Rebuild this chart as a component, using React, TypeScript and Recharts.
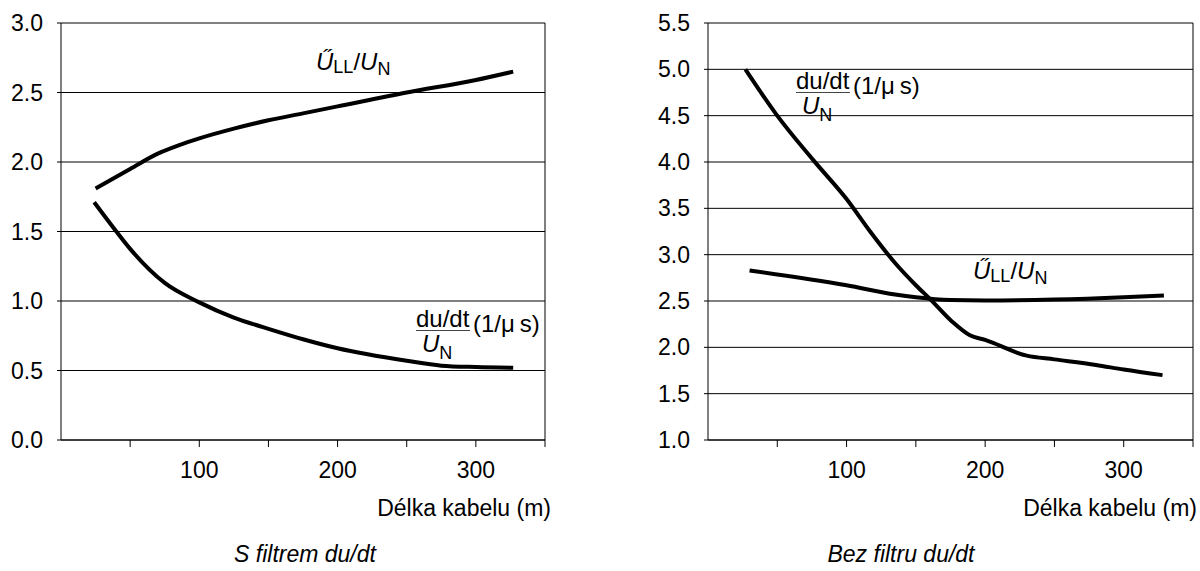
import React from 'react';
import { LineChart, Line, XAxis, YAxis, CartesianGrid, ReferenceLine } from 'recharts';

const FONT = '"Liberation Sans", Arial, Helvetica, sans-serif';

// cable length ticks (m)
const X_TICKS = [50, 100, 150, 200, 250, 300, 350];
const X_LABELED = [100, 200, 300];

// S filtrem du/dt
const filterPeakLen = [25, 50, 70, 85, 100, 125, 150, 175, 200, 250, 300, 327];
const filterPeak = [1.81, 1.95, 2.06, 2.12, 2.17, 2.24, 2.3, 2.35, 2.4, 2.5, 2.59, 2.65];
const filterRateLen = [24, 40, 50, 75, 100, 125, 150, 175, 200, 250, 275, 300, 327];
const filterRate = [1.71, 1.5, 1.375, 1.13, 0.99, 0.88, 0.8, 0.725, 0.66, 0.57, 0.535, 0.525, 0.52];
const filterYTicks = [0, 0.5, 1, 1.5, 2, 2.5, 3];

// Bez filtru du/dt
const noFilterPeakLen = [30, 100, 135, 150, 175, 200, 250, 300, 329];
const noFilterPeak = [2.83, 2.67, 2.57, 2.54, 2.51, 2.505, 2.515, 2.54, 2.56];
const noFilterRateLen = [27, 49, 76, 100, 117, 135, 150, 161, 176, 189, 200, 230, 250, 280, 300, 328];
const noFilterRate = [5.0, 4.52, 4.02, 3.6, 3.25, 2.91, 2.67, 2.51, 2.28, 2.13, 2.08, 1.91, 1.87, 1.81, 1.76, 1.7];
const noFilterYTicks = [1, 1.5, 2, 2.5, 3, 3.5, 4, 4.5, 5, 5.5];

const zip = (xs: number[], ys: number[]) => xs.map((x, i) => ({ x, y: ys[i] }));

const tickStyle = { fill: '#000', fontSize: 23, fontFamily: FONT };

// text placed by its baseline; tight line box so stacked labels don't collide
function Txt({ x, baseline, size, italic, children }: any) {
  return (
    <div
      style={{
        position: 'absolute',
        left: x,
        top: baseline - 0.7715 * size,
        fontSize: size,
        lineHeight: `${0.85 * size}px`,
        fontStyle: italic ? 'italic' : 'normal',
        whiteSpace: 'nowrap',
        color: '#000',
      }}
    >
      {children}
    </div>
  );
}

function PeakLabel({ x, baseline }: { x: number; baseline: number }) {
  return (
    <Txt x={x} baseline={baseline} size={24}>
      <i>Ű</i>
      <span style={{ fontSize: 18, position: 'relative', top: 3 }}>LL</span>/<i>U</i>
      <span style={{ fontSize: 18, position: 'relative', top: 5 }}>N</span>
    </Txt>
  );
}

function RateLabel({ x, line }: { x: number; line: number }) {
  return (
    <>
      <Txt x={x} baseline={line - 2} size={24}>du/dt</Txt>
      <div style={{ position: 'absolute', left: x, top: line, width: 54, borderTop: '1px solid #444' }} />
      <Txt x={x + 6} baseline={line + 23} size={24}>
        <i>U</i>
        <span style={{ fontSize: 18, position: 'relative', top: 7 }}>N</span>
      </Txt>
      <Txt x={x + 57} baseline={line + 3} size={24}>(1/μ{'\u2009'}s)</Txt>
    </>
  );
}

function Panel({ width, margin, yAxisWidth, yDomain, yTicks, peak, rate }: any) {
  return (
    <LineChart width={width} height={571} margin={margin}>
      <CartesianGrid horizontal vertical={false} stroke="#000" strokeWidth={1} />
      <XAxis
        type="number"
        dataKey="x"
        domain={[0, 350]}
        ticks={X_TICKS}
        tickFormatter={(v: number) => (X_LABELED.includes(v) ? String(v) : '')}
        tick={tickStyle}
        tickSize={7}
        tickMargin={15}
        height={40}
        axisLine={{ stroke: '#000' }}
        tickLine={{ stroke: '#000' }}
        allowDataOverflow
      />
      <YAxis
        type="number"
        domain={yDomain}
        ticks={yTicks}
        tickFormatter={(v: number) => v.toFixed(1)}
        tick={tickStyle}
        tickSize={4}
        tickMargin={14}
        width={yAxisWidth}
        axisLine={{ stroke: '#000' }}
        tickLine={{ stroke: '#000' }}
        allowDataOverflow
      />
      <ReferenceLine x={350} stroke="#000" strokeWidth={1} />
      <Line data={peak} dataKey="y" type="monotone" stroke="#000" strokeWidth={4} dot={false} isAnimationActive={false} />
      <Line data={rate} dataKey="y" type="monotone" stroke="#000" strokeWidth={4} dot={false} isAnimationActive={false} />
    </LineChart>
  );
}

export default function App() {
  return (
    <div style={{ position: 'absolute', left: 0, top: 0, width: 1200, height: 571, fontFamily: FONT, background: '#fff', overflow: 'hidden' }}>
      <div style={{ position: 'absolute', left: 0, top: 0 }}>
        <Panel
          width={600}
          margin={{ top: 23, right: 55, bottom: 91, left: 0 }}
          yAxisWidth={61}
          yDomain={[0, 3]}
          yTicks={filterYTicks}
          peak={zip(filterPeakLen, filterPeak)}
          rate={zip(filterRateLen, filterRate)}
        />
      </div>
      <div style={{ position: 'absolute', left: 649, top: 0 }}>
        <Panel
          width={551}
          margin={{ top: 23, right: 7, bottom: 91, left: 0 }}
          yAxisWidth={59}
          yDomain={[1, 5.5]}
          yTicks={noFilterYTicks}
          peak={zip(noFilterPeakLen, noFilterPeak)}
          rate={zip(noFilterRateLen, noFilterRate)}
        />
      </div>

      <PeakLabel x={316} baseline={71} />
      <RateLabel x={416} line={330} />
      <PeakLabel x={973} baseline={280} />
      <RateLabel x={796} line={92} />

      <div style={{ position: 'absolute', right: 649, top: 497, fontSize: 23, lineHeight: '23px' }}>Délka kabelu (m)</div>
      <div style={{ position: 'absolute', right: 3, top: 497, fontSize: 23, lineHeight: '23px' }}>Délka kabelu (m)</div>
      <div style={{ position: 'absolute', left: 0, width: 610, top: 543, textAlign: 'center', fontSize: 23, lineHeight: '23px', fontStyle: 'italic' }}>
        S filtrem du/dt
      </div>
      <div style={{ position: 'absolute', left: 649, width: 504, top: 543, textAlign: 'center', fontSize: 23, lineHeight: '23px', fontStyle: 'italic' }}>
        Bez filtru du/dt
      </div>
    </div>
  );
}
